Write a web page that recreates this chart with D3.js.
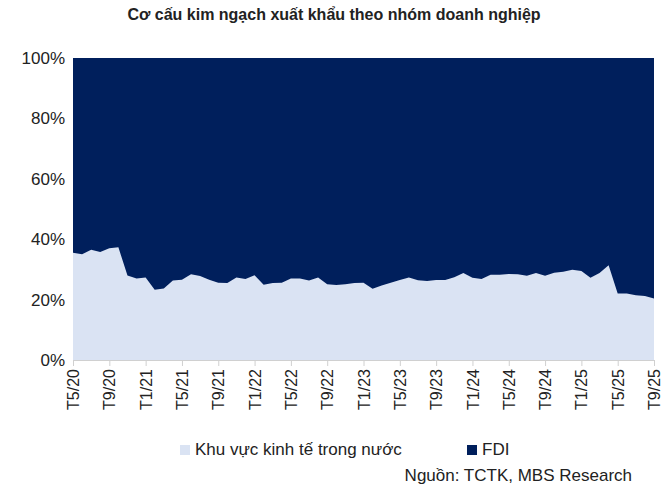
<!DOCTYPE html>
<html><head><meta charset="utf-8">
<script src="https://cdn.jsdelivr.net/npm/d3@7"></script>
<style>body{margin:0;background:#fff;font-family:Arial,"Liberation Sans",sans-serif}</style>
</head><body><div id="chart"></div>
<script>
const startMonth = 5, startYear = 2020;
const domestic = [35.5,35,36.5,35.8,37,37.3,28,27,27.3,23.3,23.7,26.3,26.6,28.4,27.8,26.6,25.6,25.5,27.3,26.8,
  28.1,24.9,25.5,25.6,27,27,26.3,27.3,25.1,24.8,25.1,25.5,25.6,23.6,24.7,25.6,26.5,27.3,26.4,26.2,
  26.5,26.5,27.4,28.8,27.2,26.8,28.2,28.2,28.5,28.4,27.9,28.8,27.9,28.9,29.2,29.9,29.5,27.2,28.8,31.4,
  22,22,21.4,21.2,20.4];
const months = domestic.map((d, i) => {
  const m = (startMonth - 1 + i) % 12 + 1;
  const y = startYear + Math.floor((startMonth - 1 + i) / 12);
  return `T${m}/${String(y).slice(2)}`;
});
const yTicks = [0, 20, 40, 60, 80, 100];
const seriesNames = ["Khu vực kinh tế trong nước", "FDI"];

const W = 669, H = 491;
const m = {left: 73, right: 15, top: 58, bottom: 131};
const svg = d3.select("#chart").append("svg").attr("width", W).attr("height", H);

const x = d3.scaleLinear().domain([0, domestic.length - 1]).range([m.left, W - m.right]);
const y = d3.scaleLinear().domain([0, 100]).range([H - m.bottom, m.top]);

svg.append("text").attr("x", 334).attr("y", 20).attr("text-anchor", "middle")
  .attr("font-size", 16).attr("font-weight", "bold").attr("fill", "#222")
  .text("Cơ cấu kim ngạch xuất khẩu theo nhóm doanh nghiệp");

svg.append("rect").attr("x", x(0)).attr("y", y(100))
  .attr("width", x(domestic.length - 1) - x(0)).attr("height", y(0) - y(100)).attr("fill", "#001f5c");

svg.append("path").datum(domestic)
  .attr("fill", "#dae3f3")
  .attr("d", d3.area().x((d, i) => x(i)).y0(y(0)).y1(d => y(d)));

const yAxis = svg.append("g").attr("transform", `translate(${m.left},0)`)
  .call(d3.axisLeft(y).tickValues(yTicks).tickFormat(d => d + "%").tickSize(0).tickPadding(8));
yAxis.select(".domain").remove();
yAxis.selectAll("text").attr("font-size", 17).attr("fill", "#222").attr("font-family", "Arial, Liberation Sans");

const tickIdx = d3.range(0, domestic.length, 4);
const xAxis = svg.append("g").attr("transform", `translate(0,${y(0)})`)
  .call(d3.axisBottom(x).tickValues(tickIdx).tickFormat(i => months[i]).tickSize(6).tickSizeOuter(0));
xAxis.select(".domain").attr("stroke", "#d0d0d0");
xAxis.selectAll("line").attr("stroke", "#d0d0d0");
xAxis.selectAll("text").attr("font-size", 16).attr("fill", "#222").attr("font-family", "Arial, Liberation Sans")
  .attr("transform", "rotate(-90)").attr("text-anchor", "end").attr("x", -9).attr("y", 0).attr("dy", "0.35em");

const lg = svg.append("g").attr("transform", "translate(180,452)");
[["#dae3f3", seriesNames[0], 0], ["#001f5c", seriesNames[1], 287]].forEach(([c, t, dx]) => {
  lg.append("rect").attr("x", dx).attr("y", -7).attr("width", 10).attr("height", 10).attr("fill", c);
  lg.append("text").attr("x", dx + 15).attr("y", 3).attr("font-size", 17).attr("fill", "#222").text(t);
});

svg.append("text").attr("x", 632).attr("y", 481).attr("text-anchor", "end")
  .attr("font-size", 17).attr("fill", "#222").text("Nguồn: TCTK, MBS Research");
</script></body></html>
